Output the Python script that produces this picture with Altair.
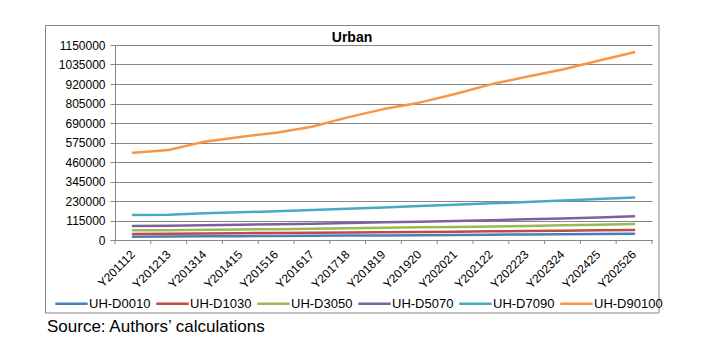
import altair as alt
import pandas as pd

years = ["Y201112", "Y201213", "Y201314", "Y201415", "Y201516", "Y201617", "Y201718",
         "Y201819", "Y201920", "Y202021", "Y202122", "Y202223", "Y202324", "Y202425", "Y202526"]
series_names = ["UH-D0010", "UH-D1030", "UH-D3050", "UH-D5070", "UH-D7090", "UH-D90100"]
colors = ["#4A7EBB", "#BE4B48", "#98B954", "#7D60A0", "#46AAC5", "#F79646"]
widths = [2.5, 2.5, 2.5, 2.5, 2.5, 4.5]

d0010 = [19000, 20000, 21500, 22500, 23500, 24500, 26000, 27000, 28000, 29500, 31000, 32500, 34000, 35500, 37000]
d1030 = [36000, 37000, 38500, 40000, 41500, 43000, 44500, 46000, 47500, 49000, 51000, 53000, 55000, 57000, 59000]
d3050 = [57000, 58000, 60000, 62000, 64000, 66500, 69000, 72000, 74500, 77000, 80000, 83000, 86500, 90000, 94000]
d5070 = [82000, 84000, 87000, 90000, 93000, 96000, 100000, 104000, 108000, 112000, 117000, 122000, 127000, 133000, 140000]
d7090 = [147000, 149000, 158000, 163000, 170000, 177000, 185000, 192000, 200000, 208000, 216000, 224000, 233000, 242000, 251000]
d90100 = [515000, 531000, 580000, 608000, 633000, 668000, 723000, 772000, 810000, 861000, 918000, 963000, 1006000, 1057000, 1107000]

y_ticks = [0, 115000, 230000, 345000, 460000, 575000, 690000, 805000, 920000, 1035000, 1150000]
title_text = "Urban"
source_text = "Source: Authors\u2019 calculations"

rows = []
for name, vals in zip(series_names, [d0010, d1030, d3050, d5070, d7090, d90100]):
    for yr, v in zip(years, vals):
        rows.append({"year": yr, "series": name, "value": v})
df = pd.DataFrame(rows)

W, H = 537, 195
FONT = "Liberation Sans"
GRID = "#868686"

x_enc = alt.X("year:N", sort=years, title=None,
              scale=alt.Scale(paddingInner=0, paddingOuter=0),
              axis=alt.Axis(labelAngle=315, labelAlign="right", labelBaseline="middle",
                            ticks=False, labelPadding=12, domainColor=GRID,
                            labelColor="#000000", labelFontSize=12, labelFont=FONT))

lines = alt.Chart(df).mark_line(strokeCap="round", strokeJoin="round").encode(
    x=x_enc,
    y=alt.Y("value:Q", title=None,
            scale=alt.Scale(domain=[0, 1150000], nice=False, zero=True),
            axis=alt.Axis(values=y_ticks, format="d", grid=True, gridColor=GRID,
                          domainColor=GRID, tickColor=GRID, tickSize=5,
                          labelColor="#000000", labelFontSize=12, labelFont=FONT,
                          labelPadding=5)),
    color=alt.Color("series:N", sort=series_names, title=None,
                    scale=alt.Scale(domain=series_names, range=colors),
                    legend=alt.Legend(orient="none", direction="horizontal",
                                      legendX=-61, legendY=241,
                                      symbolType="stroke", symbolSize=1050,
                                      symbolStrokeWidth=3, labelOffset=0,
                                      columnPadding=0, labelFontSize=13,
                                      labelFont=FONT, labelColor="#000000",
                                      labelLimit=200)),
    strokeWidth=alt.StrokeWidth("series:N", sort=series_names, title=None,
                                scale=alt.Scale(domain=series_names, range=widths),
                                legend=None),
)

tick_df = pd.DataFrame({"year": years})
ticks = alt.Chart(tick_df).mark_rule(color=GRID, strokeWidth=1).encode(
    x=alt.X("year:N", sort=years, bandPosition=0),
    y=alt.value(H), y2=alt.value(H + 4),
)
last_tick = alt.Chart(tick_df.head(1)).mark_rule(color=GRID, strokeWidth=1).encode(
    x=alt.value(W), y=alt.value(H), y2=alt.value(H + 4),
)

one = pd.DataFrame({"t": [title_text], "s": [source_text]})
L, R, T, B = -69.5, 544, -19.5, 268
frame_top = alt.Chart(one).mark_rule(color=GRID, strokeWidth=1).encode(
    x=alt.value(L), x2=alt.value(R), y=alt.value(T))
frame_bottom = alt.Chart(one).mark_rule(color=GRID, strokeWidth=1).encode(
    x=alt.value(L), x2=alt.value(R), y=alt.value(B))
frame_left = alt.Chart(one).mark_rule(color=GRID, strokeWidth=1).encode(
    x=alt.value(L), y=alt.value(T), y2=alt.value(B))
frame_right = alt.Chart(one).mark_rule(color=GRID, strokeWidth=1).encode(
    x=alt.value(R), y=alt.value(T), y2=alt.value(B))

title = alt.Chart(one).mark_text(font=FONT, fontSize=14, fontWeight="bold",
                                 align="center", baseline="middle", color="#000000").encode(
    text="t:N", x=alt.value(237), y=alt.value(-7),
)
source = alt.Chart(one).mark_text(font=FONT, fontSize=17, align="left",
                                  baseline="middle", color="#000000").encode(
    text="s:N", x=alt.value(-68), y=alt.value(282),
)

chart = alt.layer(frame_top, frame_bottom, frame_left, frame_right,
                  lines, ticks, last_tick, title, source).properties(
    width=W, height=H,
    autosize=alt.AutoSizeParams(type="none"),
    padding={"left": 115, "top": 45, "right": 56, "bottom": 111},
    background="white",
).configure_view(stroke=None).configure_axis(grid=False)

chart.save("out.html", embed_options={"renderer": "svg", "actions": False})
